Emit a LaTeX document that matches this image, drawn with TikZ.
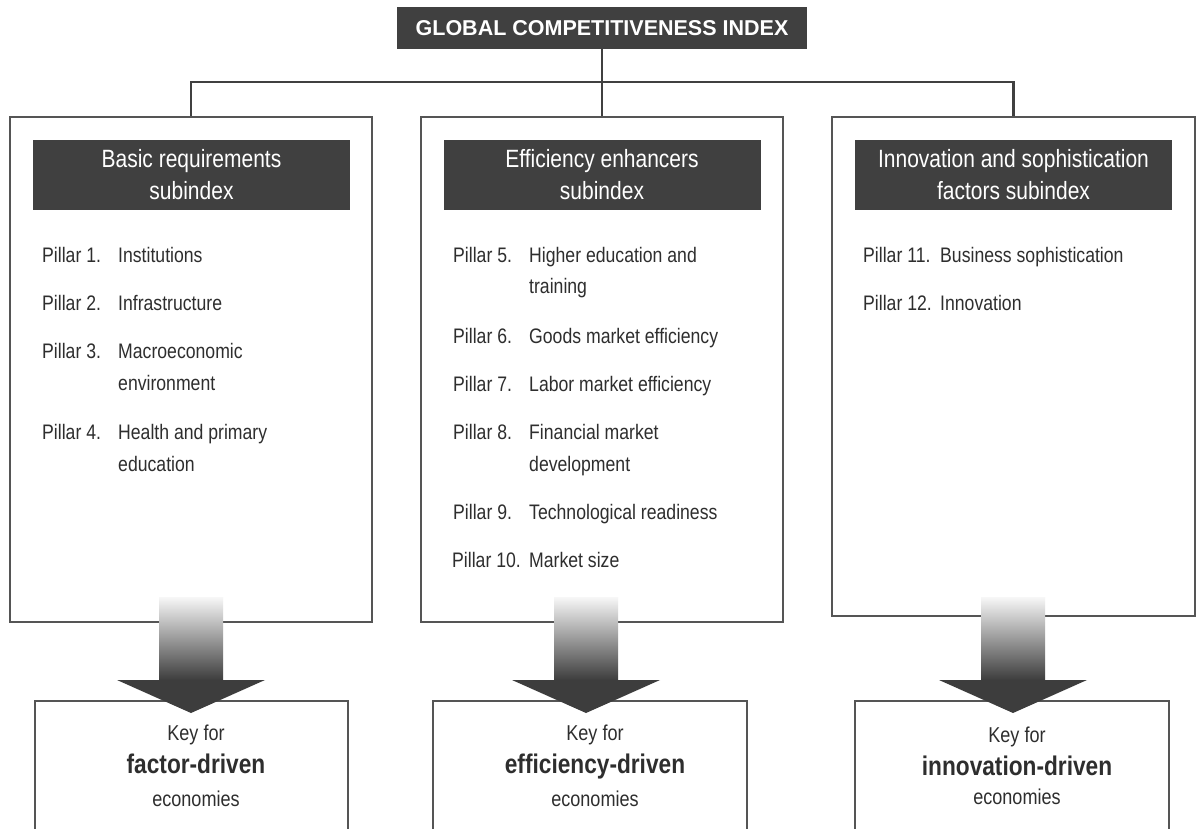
\documentclass[tikz,border=0pt]{standalone}
\usepackage{fontspec}
\setmainfont{Liberation Sans}
\newfontfamily\condf[FakeStretch=0.84]{Liberation Sans}
\usetikzlibrary{calc}
\definecolor{dk}{HTML}{404040}
\definecolor{ln}{HTML}{555555}
\definecolor{tx}{HTML}{2E2E2E}
\tikzset{
  boxline/.style={draw=ln, line width=2pt},
  panel/.style={boxline, inner sep=0pt, minimum width=362pt},
  hdr/.style={fill=dk, text=white, font=\condf\fontsize{25}{32}\selectfont, align=center, inner sep=0pt, minimum width=317pt, minimum height=70pt},
  pil/.style={anchor=base west, text=tx, font=\condf\fontsize{21}{32}\selectfont, inner sep=0pt},
  keysmall/.style={anchor=base, text=tx, font=\condf\fontsize{21.5}{24}\selectfont, inner sep=0pt},
  keybig/.style={anchor=base, text=tx, font=\condf\bfseries\fontsize{27}{30}\selectfont, inner sep=0pt},
  conn/.style={draw=dk, line width=2.7pt},
  shaft/.style={top color=black!3, bottom color=black!76},
  head/.style={fill=dk!95!black},
}
\begin{document}
\begin{tikzpicture}[x=1pt,y=-1pt]
\useasboundingbox[fill=white] (0,0) rectangle (1200,829);

% title
\node[fill=dk, text=white, font=\bfseries\fontsize{21.5}{24}\selectfont, minimum width=410pt, minimum height=42pt, inner sep=0pt] (title) at (602,28) {GLOBAL COMPETITIVENESS INDEX};

% panels
\node[panel, minimum height=505pt] (b1) at (191,369.5) {};
\node[panel, minimum height=505pt] (b2) at (602,369.5) {};
\node[panel, minimum height=499pt, minimum width=363pt] (b3) at (1013.5,366.5) {};

% connectors
\coordinate (j) at (602,82);
\draw[conn] (title.south) -- (b2.north);
\draw[conn] (b1.north) |- (j) -| (b3.north);

% headers
\node[hdr] (h1) at (191.5,175) {Basic requirements\\subindex};
\node[hdr] (h2) at (602,175) {Efficiency enhancers\\subindex};
\node[hdr] (h3) at (1013.5,175) {Innovation and sophistication\\factors subindex};

% pillars, panel 1
\node[pil] (p1) at (42,262) {Pillar 1.};
\node[pil] (p1t) at (118,262) {Institutions};
\node[pil] (p2) at (42,310) {Pillar 2.};
\node[pil] (p2t) at (118,310) {Infrastructure};
\node[pil] (p3) at (42,358) {Pillar 3.};
\node[pil] (p3t) at (118,358) {Macroeconomic};
\node[pil] (p3u) at (118,390) {environment};
\node[pil] (p4) at (42,439) {Pillar 4.};
\node[pil] (p4t) at (118,439) {Health and primary};
\node[pil] (p4u) at (118,471) {education};

% pillars, panel 2
\node[pil] (p5) at (453,262) {Pillar 5.};
\node[pil] (p5t) at (529,262) {Higher education and};
\node[pil] (p5u) at (529,294) {training};
\node[pil] (p6) at (453,343) {Pillar 6.};
\node[pil] (p6t) at (529,343) {Goods market efficiency};
\node[pil] (p7) at (453,391) {Pillar 7.};
\node[pil] (p7t) at (529,391) {Labor market efficiency};
\node[pil] (p8) at (453,439) {Pillar 8.};
\node[pil] (p8t) at (529,439) {Financial market};
\node[pil] (p8u) at (529,471) {development};
\node[pil] (p9) at (453,519) {Pillar 9.};
\node[pil] (p9t) at (529,519) {Technological readiness};
\node[pil] (p10) at (452,567) {Pillar 10.};
\node[pil] (p10t) at (529,567) {Market size};

% pillars, panel 3
\node[pil] (p11) at (863,262) {Pillar 11.};
\node[pil] (p11t) at (940,262) {Business sophistication};
\node[pil] (p12) at (863,310) {Pillar 12.};
\node[pil] (p12t) at (940,310) {Innovation};

% key boxes
\node[inner sep=0pt, minimum width=313pt, minimum height=128pt] (k1) at (191.5,765) {};
\node[inner sep=0pt, minimum width=314pt, minimum height=128pt] (k2) at (590,765) {};
\node[inner sep=0pt, minimum width=314pt, minimum height=128pt] (k3) at (1012,765) {};
\foreach \k in {k1,k2,k3}{
  \draw[boxline] (\k.south west) |- (\k.north east) -- (\k.south east);
}
\node[keysmall] (k1a) at (196,740) {Key for};
\node[keybig] (k1b) at (196,773) {factor-driven};
\node[keysmall] (k1c) at (196,806) {economies};
\node[keysmall] (k2a) at (595,740) {Key for};
\node[keybig] (k2b) at (595,773) {efficiency-driven};
\node[keysmall] (k2c) at (595,806) {economies};
\node[keysmall] (k3a) at (1017,742) {Key for};
\node[keybig] (k3b) at (1017,775) {innovation-driven};
\node[keysmall] (k3c) at (1017,804) {economies};

% big arrows
\foreach \cx/\name in {191/a1, 586/a2, 1013/a3}{
  \coordinate (\name top) at (\cx-32,597);
  \coordinate (\name bot) at (\cx+32,680);
  \fill[shaft] (\name top) rectangle (\name bot);
  \fill[head] (\cx-74,680) -- (\cx+74,680) -- (\cx,713) -- cycle;
}
\end{tikzpicture}
\end{document}
